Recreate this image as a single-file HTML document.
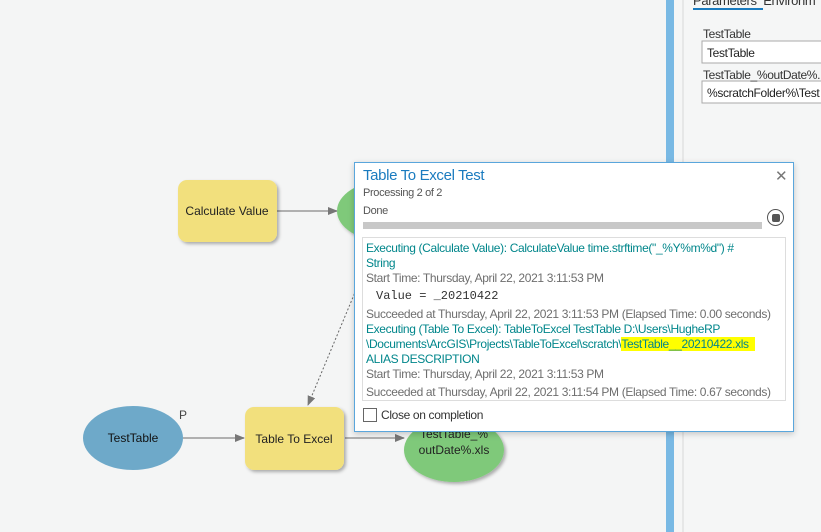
<!DOCTYPE html>
<html><head><style>
body{margin:0;width:821px;height:532px;background:#f4f5f5;position:relative;overflow:hidden;font-family:"Liberation Sans",sans-serif}
.a{position:absolute}
.dlg{left:354px;top:162px;width:438px;height:268px;background:#fff;border:1px solid #5aa6dc;box-shadow:0 2px 6px rgba(0,0,0,.2)}
.t{position:absolute;font-size:12px;white-space:nowrap;letter-spacing:-0.35px}
.g{color:#6e6e6e}.c{color:#00868b}
</style></head><body>
<svg class="a" style="left:0;top:0" width="821" height="532">
<defs><marker id="ar" markerWidth="10" markerHeight="10" refX="9" refY="5" orient="auto" markerUnits="userSpaceOnUse"><path d="M0,1 L10,5 L0,9z" fill="#777"/></marker>
<filter id="sh"><feDropShadow dx="2" dy="2" stdDeviation="1.5" flood-opacity="0.3"/></filter></defs>
<line x1="277" y1="211" x2="337" y2="211" stroke="#999" stroke-width="1.5" marker-end="url(#ar)"/>
<line x1="183" y1="438" x2="244" y2="438" stroke="#999" stroke-width="1.5" marker-end="url(#ar)"/>
<line x1="345" y1="438" x2="404" y2="438" stroke="#999" stroke-width="1.5" marker-end="url(#ar)"/>
<line x1="356" y1="290" x2="308" y2="405" stroke="#666" stroke-width="1" stroke-dasharray="2,2" marker-end="url(#ar)"/>
<rect x="178" y="180" width="99" height="62" rx="9" fill="#f2e07d" filter="url(#sh)"/>
<text x="227" y="215" font-size="12" text-anchor="middle" fill="#222">Calculate Value</text>
<ellipse cx="385" cy="211" rx="48" ry="30" fill="#7fc97a" filter="url(#sh)"/>
<ellipse cx="133" cy="438" rx="50" ry="32" fill="#6ea9c9"/>
<text x="133" y="442" font-size="12" text-anchor="middle" fill="#111">TestTable</text>
<text x="179" y="419" font-size="12" fill="#444">P</text>
<rect x="245" y="407" width="99" height="63" rx="9" fill="#f2e07d" filter="url(#sh)"/>
<text x="294" y="443" font-size="12" text-anchor="middle" fill="#222">Table To Excel</text>
<ellipse cx="454" cy="450" rx="50" ry="32" fill="#7fc97a" filter="url(#sh)"/>
<text x="454" y="438" font-size="12" text-anchor="middle" fill="#222">TestTable_%</text>
<text x="454" y="454" font-size="12" text-anchor="middle" fill="#222">outDate%.xls</text>
<rect x="666" y="0" width="8" height="532" fill="#79b9e4"/>
<rect x="674" y="0" width="147" height="532" fill="#f5f6f6"/>
<line x1="683" y1="0" x2="683" y2="532" stroke="#d8d8d8"/>
<rect x="693" y="8" width="70" height="2" fill="#1a7bbf"/>
<rect x="702" y="41" width="125" height="22" fill="#fff" stroke="#aaa"/>
<rect x="702" y="81" width="125" height="22" fill="#fff" stroke="#aaa"/>
</svg>
<div class="t" style="left:693px;top:-7px;font-size:13px;color:#333">Parameters&nbsp; Environm</div>
<div class="t" style="left:703px;top:27px;color:#333">TestTable</div>
<div class="t" style="left:707px;top:46px;color:#222">TestTable</div>
<div class="t" style="left:703px;top:68px;color:#333">TestTable_%outDate%.</div>
<div class="t" style="left:707px;top:86px;color:#222">%scratchFolder%\Test</div>
<div class="a dlg">
<div class="t" style="left:8px;top:4px;font-size:15px;color:#1a7bbf">Table To Excel Test</div>
<div class="t" style="left:420px;top:4px;font-size:15px;color:#777">✕</div>
<div class="t g" style="left:8px;top:24px;font-size:11px;color:#555">Processing 2 of 2</div>
<div class="t" style="left:8px;top:42px;font-size:11px;color:#555">Done</div>
<div class="a" style="left:8px;top:59px;width:399px;height:7px;background:#c8c8c8"></div>
<div class="a" style="left:412px;top:46px;width:15px;height:15px;border:1.5px solid #555;border-radius:50%"></div>
<div class="a" style="left:417px;top:51px;width:8px;height:8px;background:#555;border-radius:2px"></div>
<div class="a" style="left:7px;top:74px;width:422px;height:162px;border:1px solid #ddd">
<div class="t c" style="left:3px;top:3px">Executing (Calculate Value): CalculateValue time.strftime("_%Y%m%d") #</div>
<div class="t c" style="left:3px;top:18px">String</div>
<div class="t g" style="left:3px;top:33px">Start Time: Thursday, April 22, 2021 3:11:53 PM</div>
<div class="t" style="left:13px;top:51px;font-family:'Liberation Mono',monospace;font-size:12px;color:#333;letter-spacing:0">Value = _20210422</div>
<div class="t g" style="left:3px;top:69px">Succeeded at Thursday, April 22, 2021 3:11:53 PM (Elapsed Time: 0.00 seconds)</div>
<div class="t c" style="left:3px;top:84px">Executing (Table To Excel): TableToExcel TestTable D:\Users\HugheRP</div>
<div class="t c" style="left:3px;top:99px">\Documents\ArcGIS\Projects\TableToExcel\scratch\<span style="background:#ffff00">TestTable__20210422.xls&nbsp;&nbsp;</span></div>
<div class="t c" style="left:3px;top:114px">ALIAS DESCRIPTION</div>
<div class="t g" style="left:3px;top:129px">Start Time: Thursday, April 22, 2021 3:11:53 PM</div>
<div class="t g" style="left:3px;top:147px">Succeeded at Thursday, April 22, 2021 3:11:54 PM (Elapsed Time: 0.67 seconds)</div>
</div>
<div class="a" style="left:8px;top:245px;width:12px;height:12px;border:1px solid #666"></div>
<div class="t" style="left:26px;top:245px;color:#333">Close on completion</div>
</div>
</body></html>
